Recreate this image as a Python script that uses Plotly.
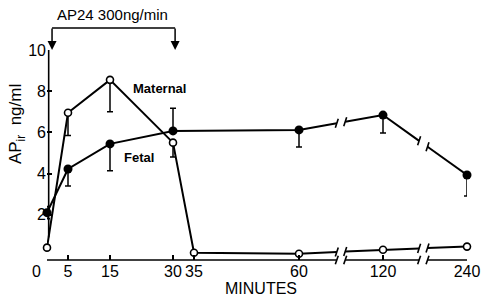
import numpy as np
import plotly.graph_objects as go

# ---------------- data ----------------
tick_minutes = [0, 5, 15, 30, 35, 60, 120, 240]
tick_labels = ["", "5", "15", "30", "35", "60", "120", "240"]
axis_minutes = [0, 60, 120, 240]      # broken time axis: linear to 60, then compressed
axis_positions = [0, 60, 80, 100]
break_positions = [70.0, 89.6]

maternal_t = [0, 5, 15, 30, 35, 60, 120, 240]
maternal_v = [0.4, 6.95, 8.55, 5.5, 0.15, 0.1, 0.3, 0.45]
maternal_err_minus = [0, 1.1, 1.55, 0.7, 0, 0, 0, 0]

fetal_t = [0, 5, 15, 30, 60, 120, 240]
fetal_v = [2.1, 4.22, 5.44, 6.07, 6.12, 6.84, 3.93]
fetal_err_minus = [0.3, 0.82, 1.31, 0, 0.83, 0.87, 1.02]
fetal_err_plus = [0.3, 0, 0, 1.1, 0, 0, 0]

y_ticks = [2, 4, 6, 8, 10]

FONT = "Liberation Sans"


def pos(t):
    return np.interp(t, axis_minutes, axis_positions)


def broken_line(xs, ys, gap=1.0):
    ox, oy, marks = [], [], []
    for i in range(len(xs) - 1):
        x0, y0, x1, y1 = xs[i], ys[i], xs[i + 1], ys[i + 1]
        ox.append(x0)
        oy.append(y0)
        for b in break_positions:
            if x0 < b < x1:
                ya = np.interp(b - gap, [x0, x1], [y0, y1])
                yb = np.interp(b + gap, [x0, x1], [y0, y1])
                ox += [b - gap, None, b + gap]
                oy += [ya, None, yb]
                marks += [(b - gap, ya), (b + gap, yb)]
    ox.append(xs[-1])
    oy.append(ys[-1])
    return ox, oy, marks


fig = go.Figure()
shapes = []

mx = [float(pos(t)) for t in maternal_t]
fx = [float(pos(t)) for t in fetal_t]

for xs, ys in ((mx, maternal_v), (fx, fetal_v)):
    lx, ly, marks = broken_line(xs, ys)
    fig.add_trace(go.Scatter(x=lx, y=ly, mode="lines", line=dict(color="black", width=2),
                             hoverinfo="skip", showlegend=False, cliponaxis=False))
    for (bx, by) in marks:
        shapes.append(dict(type="line", xref="x", yref="y",
                           x0=bx - 0.35, y0=by - 0.22, x1=bx + 0.35, y1=by + 0.22,
                           line=dict(color="black", width=1.6)))

fig.add_trace(go.Scatter(
    x=fx, y=fetal_v, mode="markers", cliponaxis=False, showlegend=False,
    marker=dict(symbol="circle", size=9, color="black"),
    error_y=dict(type="data", symmetric=False, array=fetal_err_plus,
                 arrayminus=fetal_err_minus, color="black", thickness=1.5, width=3)))

fig.add_trace(go.Scatter(
    x=mx, y=maternal_v, mode="markers", cliponaxis=False, showlegend=False,
    marker=dict(symbol="circle", size=7, color="white", line=dict(color="black", width=1.6)),
    error_y=dict(type="data", symmetric=False, array=[0] * len(mx),
                 arrayminus=maternal_err_minus, color="black", thickness=1.5, width=3)))

# x axis line with breaks (paper coords: range 0..100)
segs = [(0, break_positions[0] - 1.0), (break_positions[0] + 1.0, break_positions[1] - 1.0),
        (break_positions[1] + 1.0, 100)]
for a, b in segs:
    shapes.append(dict(type="line", xref="paper", yref="paper", x0=a / 100, x1=b / 100,
                       y0=0, y1=0, line=dict(color="black", width=1.6)))
for b in break_positions:
    for s in (-1.0, 1.0):
        xc = (b + s) / 100
        shapes.append(dict(type="line", xref="paper", yref="paper",
                           x0=xc - 0.0035, x1=xc + 0.0035, y0=-0.02, y1=0.02,
                           line=dict(color="black", width=1.6)))

# y axis line
shapes.append(dict(type="line", xref="paper", yref="paper", x0=0.004, x1=0.004,
                   y0=(0.9 + 0.2) / 10.2, y1=1.0, line=dict(color="black", width=1.6)))

# bracket for infusion
shapes.append(dict(type="line", xref="paper", yref="paper", x0=0.012, x1=0.305,
                   y0=1.105, y1=1.105, line=dict(color="black", width=1.6)))

annotations = []
for xa in (0.012, 0.305):
    annotations.append(dict(x=xa, y=1.0, xref="paper", yref="paper", ax=0, ay=-23,
                            axref="pixel", ayref="pixel", text="", showarrow=True,
                            arrowhead=2, arrowsize=1.2, arrowwidth=1.5, arrowcolor="black"))


def label(x, y, text, size, angle=0):
    return dict(x=x, y=y, xref="paper", yref="paper", text=text, showarrow=False,
                xanchor="center", yanchor="middle", textangle=angle,
                font=dict(family=FONT, size=size, color="black"))


annotations += [
    label(0.155, 1.167, "AP24 300ng/min", 15),
    label(0.269, 0.819, "<b>Maternal</b>", 13),
    label(0.219, 0.49, "<b>Fetal</b>", 13),
    label(-0.071, 0.648, "AP<sub>ir</sub>  ng/ml", 17, angle=-90),
    label(0.51, -0.138, "MINUTES", 16),
    label(-0.024, -0.057, "0", 16),
]

fig.update_layout(
    width=483, height=296,
    margin=dict(l=47, r=16, t=50, b=36, autoexpand=False),
    paper_bgcolor="white", plot_bgcolor="white",
    shapes=shapes, annotations=annotations,
    xaxis=dict(range=[0, 100], tickvals=[float(pos(t)) for t in tick_minutes],
               ticktext=tick_labels, ticks="inside", ticklen=5, tickwidth=1.5,
               tickcolor="black", showline=False, showgrid=False, zeroline=False,
               tickfont=dict(family=FONT, size=16, color="black")),
    yaxis=dict(range=[-0.2, 10], tickvals=y_ticks, ticks="inside", ticklen=5,
               tickwidth=1.5, tickcolor="black", showline=False, showgrid=False,
               zeroline=False, tickfont=dict(family=FONT, size=16, color="black")),
)

fig.write_html(
    "out.html",
    config={"displayModeBar": False},
    post_script="document.body.style.margin='0';document.body.style.overflow='hidden';",
)
